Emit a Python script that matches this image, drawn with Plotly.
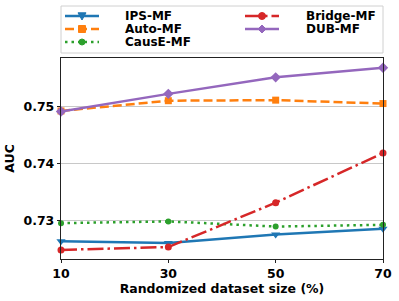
import plotly.graph_objects as go

x_vals = [10, 30, 50, 70]
ips_mf = [0.7263, 0.7260, 0.7275, 0.7285]
auto_mf = [0.7492, 0.7510, 0.7511, 0.7505]
cause_mf = [0.7295, 0.7298, 0.7289, 0.7292]
bridge_mf = [0.7248, 0.7253, 0.7331, 0.7418]
dub_mf = [0.7491, 0.7522, 0.7551, 0.7568]
x_ticks = [10, 30, 50, 70]
y_ticks = [0.73, 0.74, 0.75]

F = "DejaVu Sans"
W, H = 399, 301
ML, MR, MT, MB = 61, 16, 58, 42
PW, PH = W - ML - MR, H - MT - MB

def xp(px):
    return (px - ML) / PW

def yp(py):
    return (H - MB - py) / PH

# name, values, colour, dash, symbol, marker size, legend column, legend row
series = [
    ("IPS-MF", ips_mf, "#1f77b4", "solid", "triangle-down", 8, 0, 0),
    ("Auto-MF", auto_mf, "#ff7f0e", "9px,4px", "square", 7, 0, 1),
    ("CausE-MF", cause_mf, "#2ca02c", "2.5px,4px", "circle", 6, 0, 2),
    ("Bridge-MF", bridge_mf, "#d62728", "16px,4px,2.5px,4px", "circle", 7, 1, 0),
    ("DUB-MF", dub_mf, "#9467bd", "solid", "diamond", 8, 1, 1),
]

fig = go.Figure()
for name, ys, c, dash, sym, ms, col, row in series:
    fig.add_trace(go.Scatter(
        x=x_vals, y=ys, name=name, mode="lines+markers",
        line=dict(color=c, width=2.5, dash=dash),
        marker=dict(symbol=sym, size=ms, color=c),
        cliponaxis=False, showlegend=False,
    ))

# manual legend (matplotlib-like compact layout)
shapes = [dict(type="rect", xref="paper", yref="paper",
               x0=xp(61), x1=xp(383), y0=yp(53), y1=yp(6),
               line=dict(color="#d0d0d0", width=1), fillcolor="white", layer="above")]
annotations = []
col_x = [65, 245]
text_x = [123, 304]
row_y = [16, 29, 42]
for name, ys, c, dash, sym, ms, col, row in series:
    lx0 = col_x[col]
    lx1 = lx0 + 34
    ly = row_y[row]
    shapes.append(dict(type="line", xref="paper", yref="paper",
                       x0=xp(lx0), x1=xp(lx1), y0=yp(ly), y1=yp(ly),
                       line=dict(color=c, width=2.5, dash=dash), layer="above"))
    mx, my = xp(lx0 + 17), yp(ly)
    r = ms / 2
    if sym == "circle":
        shp = dict(type="circle", x0=-r, x1=r, y0=-r, y1=r)
    elif sym == "square":
        shp = dict(type="rect", x0=-r, x1=r, y0=-r, y1=r)
    elif sym == "diamond":
        shp = dict(type="path", path=f"M {-r} 0 L 0 {r} L {r} 0 L 0 {-r} Z")
    else:
        shp = dict(type="path", path=f"M {-r} {r*0.8} L {r} {r*0.8} L 0 {-r} Z")
    shp.update(xref="paper", yref="paper", xsizemode="pixel", ysizemode="pixel",
               xanchor=mx, yanchor=my, fillcolor=c, line=dict(color=c, width=1), layer="above")
    shapes.append(shp)
    annotations.append(dict(xref="paper", yref="paper", x=xp(text_x[col]), y=yp(ly),
                            xanchor="left", yanchor="middle", showarrow=False,
                            text="<b>" + name + "</b>",
                            font=dict(family=F, size=12, color="black")))

fig.update_layout(
    width=W, height=H,
    margin=dict(l=ML, r=MR, t=MT, b=MB, autoexpand=False),
    paper_bgcolor="white", plot_bgcolor="white",
    font=dict(family=F, size=12, color="black"),
    showlegend=False,
    shapes=shapes, annotations=annotations,
    xaxis=dict(
        range=[10, 70], tickvals=x_ticks, ticktext=["<b>%d</b>" % v for v in x_ticks],
        showgrid=False, showline=True, linecolor="#222", linewidth=1.2, mirror=True,
        ticks="outside", ticklen=3, tickcolor="#222", automargin=False,
        tickfont=dict(family=F, size=12.5),
        title=dict(text="<b>Randomized dataset size (%)</b>", font=dict(family=F, size=12.5), standoff=4),
        zeroline=False,
    ),
    yaxis=dict(
        range=[0.7232, 0.7585], tickvals=y_ticks, ticktext=["<b>%.2f</b>" % v for v in y_ticks],
        showgrid=True, gridcolor="#c8c8c8", gridwidth=1,
        showline=True, linecolor="#222", linewidth=1.2, mirror=True,
        ticks="outside", ticklen=3, tickcolor="#222", automargin=False,
        tickfont=dict(family=F, size=12.5),
        title=dict(text="<b>AUC</b>", font=dict(family=F, size=12.5), standoff=6),
        zeroline=False,
    ),
)

fig.write_html("out.html", config={"displayModeBar": False, "staticPlot": True},
               post_script="document.body.style.margin='0';document.body.style.padding='0';")
